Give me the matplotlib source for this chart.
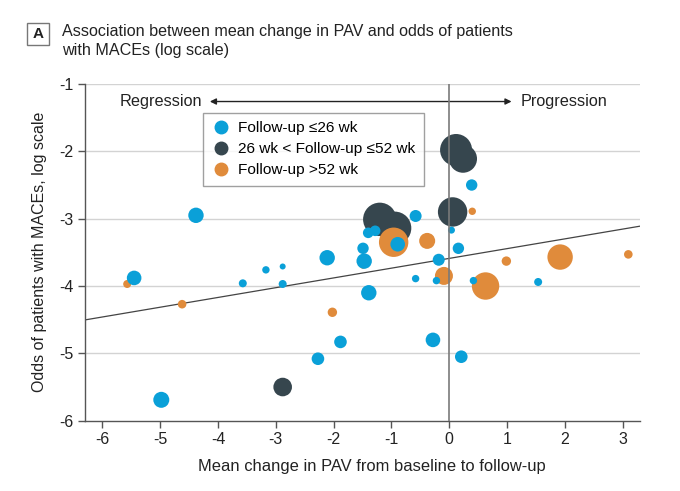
import matplotlib
matplotlib.use("Agg")
import matplotlib.pyplot as plt
from matplotlib.patches import Rectangle
from matplotlib.lines import Line2D

plt.rcParams['font.family'] = ['Liberation Sans Narrow', 'Liberation Sans', 'DejaVu Sans']
plt.rcParams['axes.unicode_minus'] = False

# Follow-up <=26 wk
short_x = [-5.45, -4.38, -4.98, -3.57, -3.17, -2.88, -2.88, -2.11, -2.27, -1.88,
           -1.39, -1.49, -1.47, -1.40, -1.28, -0.89, -0.58, -0.58, -0.22, -0.18,
           -0.28, 0.04, 0.16, 0.21, 0.39, 0.42, 1.54]
short_y = [-3.88, -2.95, -5.69, -3.96, -3.76, -3.71, -3.97, -3.58, -5.08, -4.83,
           -4.10, -3.44, -3.63, -3.21, -3.18, -3.38, -2.96, -3.89, -3.92, -3.61,
           -4.80, -3.17, -3.44, -5.05, -2.50, -3.92, -3.94]
short_w = [7.3, 7.7, 8.0, 4.0, 3.7, 3.0, 4.0, 7.7, 6.3, 6.3,
           7.7, 5.7, 7.7, 5.3, 5.3, 7.3, 6.0, 3.7, 3.7, 6.0,
           7.3, 3.5, 5.7, 6.3, 5.7, 3.7, 4.0]

# 26 wk < follow-up <= 52 wk
mid_x = [0.12, 0.24, 0.06, -1.20, -0.94, -2.88]
mid_y = [-1.98, -2.11, -2.90, -3.01, -3.14, -5.50]
mid_w = [16.0, 14.0, 14.7, 16.7, 16.5, 9.3]

# Follow-up >52 wk
long_x = [-5.57, -4.62, -2.02, -1.49, -0.96, -0.38, -0.09, 0.40, 0.63, 0.99, 1.92, 3.10]
long_y = [-3.97, -4.27, -4.39, -3.70, -3.35, -3.33, -3.85, -2.89, -4.00, -3.63, -3.57, -3.53]
long_w = [4.0, 4.3, 4.7, 3.0, 14.7, 8.0, 9.0, 3.7, 13.7, 4.7, 12.7, 4.3]

# meta-regression line
fit_intercept = -3.59
fit_slope = 0.145

x_ticks = [-6, -5, -4, -3, -2, -1, 0, 1, 2, 3]
y_ticks = [-6, -5, -4, -3, -2, -1]

BLUE = '#0aa0d8'
DARK = '#36464e'
ORANGE = '#e08b3b'
DPI = 100


def area(w):
    # w is marker radius in pixels -> scatter area in points^2
    return [(2 * r * 72 / DPI) ** 2 for r in w]


fig = plt.figure(figsize=(6.8, 4.91), dpi=DPI)
ax = fig.add_axes([0.125, 0.1432, 0.816, 0.6857])

ax.set_xlim(-6.3, 3.3)
ax.set_ylim(-6, -1)

for yv in y_ticks[1:]:
    ax.axhline(yv, color='#d3d3d3', lw=1.0, zorder=0)

xs = [-6.3, 3.3]
ax.plot(xs, [fit_intercept + fit_slope * v for v in xs], color='#444444', lw=0.9, zorder=1)

ax.scatter(mid_x, mid_y, s=area(mid_w), color=DARK, linewidths=0, zorder=2)
ax.scatter(long_x, long_y, s=area(long_w), color=ORANGE, linewidths=0, zorder=3)
ax.scatter(short_x, short_y, s=area(short_w), color=BLUE, linewidths=0, zorder=4)

ax.axvline(0, color='#7a7a7a', lw=1.4, alpha=0.85, zorder=5)

ax.set_xticks(x_ticks)
ax.set_yticks(y_ticks)
ax.tick_params(axis='both', labelsize=11.5, color='#555555', length=5, width=1,
               labelcolor='#222222')
for side in ['top', 'right']:
    ax.spines[side].set_visible(False)
for side in ['left', 'bottom']:
    ax.spines[side].set_color('#555555')
    ax.spines[side].set_linewidth(1)

# regression / progression arrow
ax.annotate('', xy=(-4.14, -1.26), xytext=(1.08, -1.26),
            arrowprops=dict(arrowstyle='<|-|>', color='#222222', lw=1,
                            mutation_scale=9, shrinkA=0, shrinkB=0))
ax.text(-4.27, -1.26, 'Regression', ha='right', va='center', fontsize=11.7, color='#222222')
ax.text(1.23, -1.26, 'Progression', ha='left', va='center', fontsize=11.7, color='#222222')

handles = [Line2D([], [], marker='o', ls='', color=c, markersize=9)
           for c in [BLUE, DARK, ORANGE]]
labels = ['Follow-up ≤26 wk', '26 wk < Follow-up ≤52 wk', 'Follow-up >52 wk']
leg = ax.legend(handles, labels, loc='upper left', bbox_to_anchor=(0.2126, 0.914),
                fontsize=11.1, frameon=True, fancybox=False, handletextpad=0.55,
                labelspacing=0.45, borderpad=0.55, handlelength=1.2, borderaxespad=0)
leg.get_frame().set_edgecolor('#888888')
leg.get_frame().set_linewidth(1)
leg.set_zorder(6)

# panel label and title
fig.patches.append(Rectangle((27 / 680, 1 - 45 / 491), 22 / 680, 22 / 491,
                             transform=fig.transFigure, fill=False,
                             edgecolor='#777777', lw=1))
fig.text(38 / 680, 1 - 34 / 491, 'A', ha='center', va='center', fontsize=11,
         fontweight='bold', color='#222222')
fig.text(62 / 680, 1 - 24 / 491,
         'Association between mean change in PAV and odds of patients\nwith MACEs (log scale)',
         ha='left', va='top', fontsize=11.6, color='#222222', linespacing=1.32)

fig.text(40 / 680, 0.487, 'Odds of patients with MACEs, log scale', rotation=90,
         ha='center', va='center', fontsize=11.5, color='#222222')
fig.text(372 / 680, 1 - 466 / 491, 'Mean change in PAV from baseline to follow-up',
         ha='center', va='center', fontsize=11.9, color='#222222')

fig.savefig('out.png', dpi=DPI)
